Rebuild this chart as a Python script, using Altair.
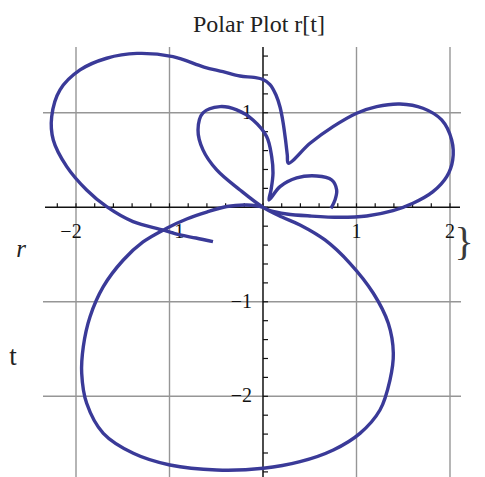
import altair as alt
import pandas as pd

# ---- data (data units) ----
curve_x = [-0.535, -0.717, -0.888, -1.070, -1.390, -1.672, -1.886, -2.099, -2.243, -2.260,
           -2.171, -1.957, -1.672, -1.348, -0.963, -0.631, -0.428,
           -0.246, -0.096, 0.000, 0.075, 0.139, 0.182, 0.214, 0.241, 0.260, 0.271,
           0.503, 0.749, 1.002, 1.216, 1.465, 1.711,
           1.911, 2.018, 2.029, 1.965, 1.818, 1.604, 1.390, 1.109, 0.824, 0.503,
           0.253, 0.075, 0.000, -0.174, -0.388, -0.602, -0.816, -1.030, -1.283, -1.494,
           -1.708, -1.850, -1.922, -1.939, -1.886, -1.708, -1.387, -0.995, -0.495, 0.003,
           0.396, 0.752, 1.037, 1.251, 1.358, 1.394, 1.340, 1.180, 0.930, 0.663,
           0.396, 0.203, 0.000, -0.246, -0.495, -0.642, -0.695, -0.642, -0.460, -0.281,
           -0.107, 0.040, 0.093, 0.107, 0.086, 0.064, 0.182, 0.360, 0.574, 0.735,
           0.788, 0.770, 0.727]
curve_y = [-0.364, -0.325, -0.293, -0.240, -0.152, 0.006, 0.183, 0.430, 0.712, 0.959,
           1.242, 1.453, 1.577, 1.628, 1.594, 1.484, 1.435,
           1.389, 1.374, 1.352, 1.299, 1.188, 1.061, 0.903, 0.713, 0.552, 0.466,
           0.677, 0.853, 0.995, 1.065, 1.093, 1.048,
           0.924, 0.712, 0.501, 0.324, 0.165, 0.042, -0.036, -0.092, -0.106, -0.092,
           -0.071, -0.036, 0.000, 0.024, 0.008, -0.050, -0.124, -0.222, -0.367, -0.558,
           -0.840, -1.158, -1.475, -1.757, -2.074, -2.392, -2.603, -2.727, -2.780, -2.762,
           -2.692, -2.568, -2.392, -2.145, -1.828, -1.545, -1.228, -0.910, -0.593, -0.346,
           -0.187, -0.103, 0.000, 0.183, 0.395, 0.607, 0.818, 0.998, 1.065, 1.030,
           0.924, 0.747, 0.535, 0.363, 0.183, 0.077, 0.218, 0.310, 0.331, 0.289,
           0.183, 0.077, -0.011]

grid_x = [-2, -1, 1, 2]
grid_y = [1, -1, -2]
xlab_neg_vals = [-2]
xlab_neg_text = ["\u22122"]
xlab_neg1_vals = [-1]
xlab_neg1_text = ["\u22121"]
xlab_pos_vals = [1, 2]
xlab_pos_text = ["1", "2"]
ylab_vals = [1, -1, -2]
ylab_text = ["1", "\u22121", "\u22122"]
xminor = [round(-2.2 + 0.2 * i, 1) for i in range(22)]
yminor = [round(-2.8 + 0.2 * i, 1) for i in range(23)]

title_text = "Polar Plot r[t]"

# ---- layout ----
W, H = 415, 430
XDOM = [-2.3316, 2.1070]
YDOM = [-2.854, 1.696]
xs = alt.Scale(domain=XDOM, nice=False, zero=False)
ys = alt.Scale(domain=YDOM, nice=False, zero=False)
SERIF = "Liberation Serif"

curve = pd.DataFrame({"x": curve_x, "y": curve_y, "o": list(range(len(curve_x)))})

def X(f):
    return alt.X(f, type="quantitative", scale=xs, axis=None)

def Y(f):
    return alt.Y(f, type="quantitative", scale=ys, axis=None)

gridv = alt.Chart(pd.DataFrame({"g": grid_x})).mark_rule(color="#969696", strokeWidth=1.4).encode(
    x=X("g"), y=alt.value(0), y2=alt.value(H))
gridh = alt.Chart(pd.DataFrame({"g": grid_y})).mark_rule(color="#969696", strokeWidth=1.4).encode(
    y=Y("g"), x=alt.value(-2), x2=alt.value(W + 1))

axx = alt.Chart(pd.DataFrame({"a": [0]})).mark_rule(color="#111111", strokeWidth=1.5).encode(
    y=Y("a"), x=alt.value(0), x2=alt.value(W))
axy = alt.Chart(pd.DataFrame({"a": [0]})).mark_rule(color="#111111", strokeWidth=1.5).encode(
    x=X("a"), y=alt.value(0), y2=alt.value(H))

tdx = pd.DataFrame({"v": xminor, "z": [0] * len(xminor)})
tdy = pd.DataFrame({"v": yminor, "z": [0] * len(yminor)})
ticksx = alt.Chart(tdx).mark_rule(color="#111111", strokeWidth=1.2, y2Offset=-4).encode(
    x=X("v"), y=Y("z"), y2="z:Q")
ticksy = alt.Chart(tdy).mark_rule(color="#111111", strokeWidth=1.2, x2Offset=5).encode(
    y=Y("v"), x=X("z"), x2="z:Q")

def xlabels(vals, texts, dx):
    df = pd.DataFrame({"v": vals, "t": texts, "z": [0] * len(vals)})
    return alt.Chart(df).mark_text(font=SERIF, fontSize=20, color="#111111", align="center",
                                   baseline="alphabetic", dy=31, dx=dx).encode(
        x=X("v"), y=Y("z"), text="t:N")

labx1 = xlabels(xlab_neg_vals, xlab_neg_text, -5)
labx2 = xlabels(xlab_neg1_vals, xlab_neg1_text, 4)
labx3 = xlabels(xlab_pos_vals, xlab_pos_text, 0)

ydf = pd.DataFrame({"v": ylab_vals, "t": ylab_text, "z": [0] * len(ylab_vals)})
laby = alt.Chart(ydf).mark_text(font=SERIF, fontSize=20, color="#111111", align="right",
                                baseline="middle", dx=-11, dy=0).encode(
    x=X("z"), y=Y("v"), text="t:N")

line = alt.Chart(curve).mark_line(color="#3a3a98", strokeWidth=3.4, interpolate="catmull-rom",
                                  clip=True).encode(x=X("x"), y=Y("y"), order="o:Q")

one = pd.DataFrame({"t": [title_text]})
title = alt.Chart(one).mark_text(font=SERIF, fontSize=24, color="#222222", align="center",
                                 baseline="alphabetic").encode(
    x=alt.value(214), y=alt.value(-15.5), text="t:N")
rlab = alt.Chart(pd.DataFrame({"t": ["r"]})).mark_text(font=SERIF, fontSize=25, fontStyle="italic",
                                                       color="#222222", align="center",
                                                       baseline="alphabetic").encode(
    x=alt.value(-24), y=alt.value(209.5), text="t:N")
tlab = alt.Chart(pd.DataFrame({"t": ["t"]})).mark_text(font=SERIF, fontSize=27, color="#222222",
                                                       align="center", baseline="alphabetic").encode(
    x=alt.value(-32), y=alt.value(318), text="t:N")
brace = alt.Chart(pd.DataFrame({"t": ["}"]})).mark_text(font=SERIF, fontSize=40,
                                                        color="#3a3a3a", align="center",
                                                        baseline="middle").encode(
    x=alt.value(419), y=alt.value(196), text="t:N")

chart = alt.layer(gridv, gridh, axx, axy, ticksx, ticksy, labx1, labx2, labx3, laby, line,
                  title, rlab, tlab, brace).properties(
    width=W, height=H,
    autosize=alt.AutoSizeParams(type="none"),
    padding={"left": 37, "top": 39, "right": 17, "bottom": 0},
    background="white",
).configure_view(stroke=None)

chart.save("out.html", embed_options={"renderer": "svg", "actions": False})
